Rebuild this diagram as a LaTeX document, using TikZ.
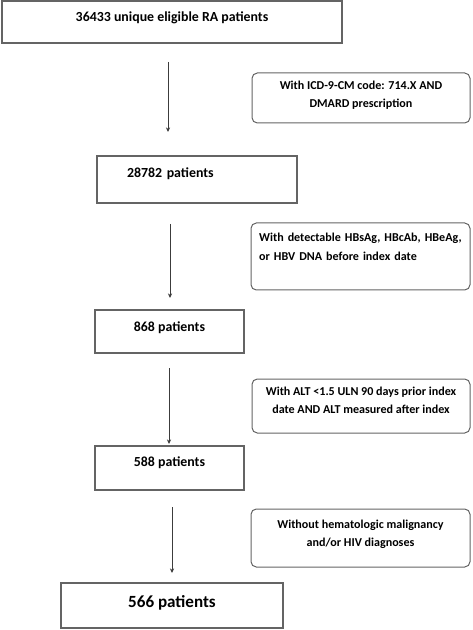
\documentclass[tikz,border=0pt]{standalone}
\usepackage{fontspec}
\setmainfont{Carlito}
\usetikzlibrary{arrows.meta}

\begin{document}
\begin{tikzpicture}[x=0.75pt,y=0.75pt,yscale=-1,xscale=1,
	mainbox/.style={draw={rgb,255:red,100;green,100;blue,100}, line width=0.9pt, inner sep=0pt, font=\fontsize{10.4}{12}\selectfont\bfseries},
	notebox/.style={draw={rgb,255:red,100;green,100;blue,100}, line width=0.75pt, rounded corners=4pt, inner sep=0pt, align=center, text depth=2pt, font=\fontsize{9.05}{13.9}\selectfont\bfseries},
	flowarrow/.style={draw={rgb,255:red,60;green,60;blue,60}, line width=0.75pt, -{Stealth[length=3.5pt,width=3.2pt]}}]
			\useasboundingbox (0,0) rectangle (472,630);

			%Shape: Rectangle [id:cohort]
			\node [mainbox, minimum width=255pt, minimum height=31.5pt, text height=15.3pt, text depth=16.2pt] (cohort) at (172,22) {36433 unique eligible RA patients};
			%Shape: Rectangle [id:step1]
			\node [mainbox, minimum width=150pt, minimum height=35.25pt, text width=105pt, align=left, inner xsep=22.5pt, text height=16pt, text depth=19.25pt] (step1) at (197,179.5) {28782 patients};
			%Shape: Rectangle [id:step2]
			\node [mainbox, minimum width=111.75pt, minimum height=32.25pt, text height=16pt, text depth=16.25pt] (step2) at (169.5,331.5) {868 patients};
			%Shape: Rectangle [id:step3]
			\node [mainbox, minimum width=111.75pt, minimum height=33pt, text height=15.3pt, text depth=17.7pt] (step3) at (169.5,468) {588 patients};
			%Shape: Rectangle [id:final]
			\node [mainbox, minimum width=166.5pt, minimum height=33.75pt, text height=18.3pt, text depth=15.45pt, font=\fontsize{12.8}{14}\selectfont\bfseries] (final) at (172,605.5) {566 patients};

			%Shape: Rounded Rect [id:crit1]
			\node [notebox, minimum width=163.5pt, minimum height=37.5pt, text height=16.7pt] (crit1) at (361,98) {With ICD-9-CM code: 714.X AND\\DMARD prescription};
			%Shape: Rounded Rect [id:crit2]
			\node [notebox, minimum width=164.25pt, minimum height=50.25pt, text width=152pt, align=left, inner xsep=6.1pt, text height=7pt, text depth=29pt] (crit2) at (360.5,256.5) {With detectable HBsAg, HBcAb, HBeAg,\\or HBV DNA before index date};
			%Shape: Rounded Rect [id:crit3]
			\node [notebox, minimum width=163.5pt, minimum height=40.5pt, text height=13.7pt] (crit3) at (361,406) {With ALT {<}1.5 ULN 90 days prior index\\date AND ALT measured after index};
			%Shape: Rounded Rect [id:crit4]
			\node [notebox, minimum width=164.25pt, minimum height=43.5pt, text height=15.2pt] (crit4) at (360.5,538) {Without hematologic malignancy\\and/or HIV diagnoses};

			%Straight Lines [id:arrows]
			\coordinate (a1s) at (168,62);  \coordinate (a1e) at (168,132);
			\coordinate (a2s) at (170,224); \coordinate (a2e) at (170,298);
			\coordinate (a3s) at (169,368); \coordinate (a3e) at (169,444);
			\coordinate (a4s) at (172,507); \coordinate (a4e) at (172,573);
			\draw [flowarrow] (a1s) -- (a1e);
			\draw [flowarrow] (a2s) -- (a2e);
			\draw [flowarrow] (a3s) -- (a3e);
			\draw [flowarrow] (a4s) -- (a4e);

		\end{tikzpicture}
\end{document}
